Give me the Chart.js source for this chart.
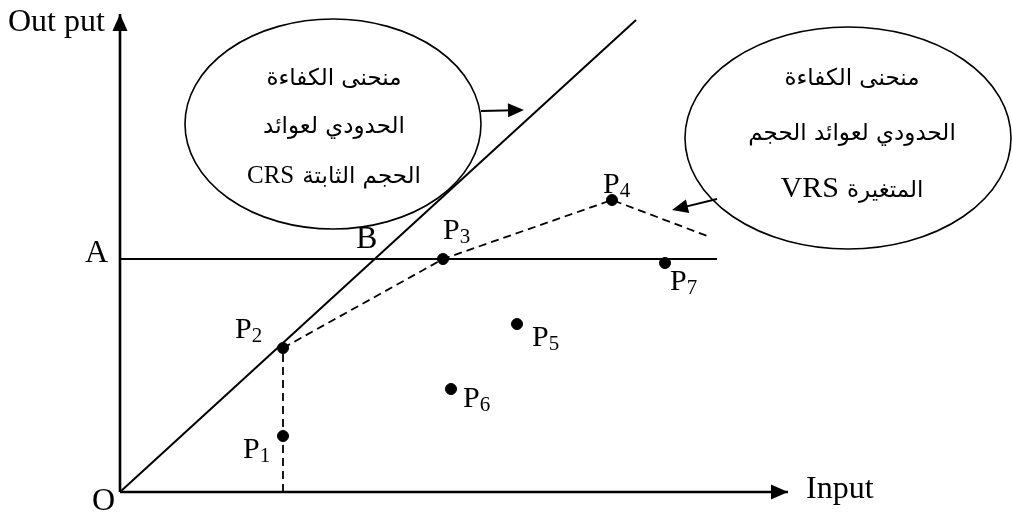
<!DOCTYPE html>
<html>
<head>
<meta charset="utf-8">
<script src="https://cdn.jsdelivr.net/npm/chart.js@4/dist/chart.umd.min.js"></script>
<style>
  html, body { margin: 0; padding: 0; background: #fff; }
  #c { display: block; }
</style>
</head>
<body>
<canvas id="c" width="1012" height="515"></canvas>
<script>
// ---- data (axis units) ----
const pointNames = ['1', '2', '3', '4', '5', '6', '7'];
const pointX = [16.3, 16.3, 32.3, 49.2, 39.7, 33.1, 54.5];
const pointY = [5.6, 14.4, 23.3, 29.2, 16.8, 10.3, 22.9];

const crsX = [0, 51.6];
const crsY = [0, 47.2];

const levelAX = [0, 59.7];
const levelAY = [23.3, 23.3];

const vrsX = [16.3, 32.3, 49.2, 59.0];
const vrsY = [14.4, 23.3, 29.2, 25.5];

const dropX = [16.3, 16.3];
const dropY = [0, 14.4];

const xAxisX = [0, 66.8];
const xAxisY = [0, 0];
const yAxisX = [0, 0];
const yAxisY = [0, 47.8];

// each line: [Arabic part, Latin part]
const crsText = [['منحنى الكفاءة', ''], ['الحدودي لعوائد', ''], ['الحجم الثابتة', 'CRS']];
const vrsText = [['منحنى الكفاءة', ''], ['الحدودي لعوائد الحجم', ''], ['المتغيرة', 'VRS']];

const toXY = (xs, ys) => xs.map((x, i) => ({ x: x, y: ys[i] }));

const lineDs = (xs, ys, opts) => Object.assign({
  type: 'line',
  data: toXY(xs, ys),
  borderColor: '#000',
  borderWidth: 2,
  pointRadius: 0,
  fill: false,
  tension: 0,
  clip: false
}, opts);

// ---- annotation layout (positions in axis units, sizes in px) ----
const ellipses = [
  { cx: 21.3, cy: 36.8, rx: 14.8, ry: 10.5, lines: crsText, tx: 21.4, ty: [40.7, 35.9, 30.9], font: 23, latin: 25 },
  { cx: 72.8, cy: 35.4, rx: 16.3, ry: 11.1, lines: vrsText, tx: 73.2, ty: [40.7, 35.2, 29.5], font: 23, latin: 30 }
];
const pointers = [
  { x1: 36.1, y1: 38.1, x2: 40.4, y2: 38.2 },
  { x1: 59.7, y1: 29.3, x2: 55.2, y2: 28.2 }
];
// label offsets (px) relative to each point
const labelOffsets = [
  [-40, 22], [-48, -10], [0, -20], [-9, -7], [15, 22], [12, 18], [5, 27]
];

const annot = {
  id: 'annot',
  afterDatasetsDraw(chart) {
    const ctx = chart.ctx;
    const xs = chart.scales.x, ys = chart.scales.y;
    const px = v => xs.getPixelForValue(v);
    const py = v => ys.getPixelForValue(v);
    const sx = d => Math.abs(xs.getPixelForValue(d) - xs.getPixelForValue(0));
    const sy = d => Math.abs(ys.getPixelForValue(d) - ys.getPixelForValue(0));

    function arrowHead(x1, y1, x2, y2, len, half) {
      const a = Math.atan2(y2 - y1, x2 - x1);
      ctx.beginPath();
      ctx.moveTo(x2, y2);
      ctx.lineTo(x2 - len * Math.cos(a) + half * Math.sin(a), y2 - len * Math.sin(a) - half * Math.cos(a));
      ctx.lineTo(x2 - len * Math.cos(a) - half * Math.sin(a), y2 - len * Math.sin(a) + half * Math.cos(a));
      ctx.closePath();
      ctx.fillStyle = '#000';
      ctx.fill();
    }

    ctx.save();
    // axis arrow heads
    arrowHead(px(xAxisX[0]), py(xAxisY[0]), px(xAxisX[1]), py(xAxisY[1]), 17, 7.5);
    arrowHead(px(yAxisX[0]), py(yAxisY[0]), px(yAxisX[1]), py(yAxisY[1]), 17, 7.5);

    // ellipses with Arabic text
    ellipses.forEach(e => {
      ctx.beginPath();
      ctx.ellipse(px(e.cx), py(e.cy), sx(e.rx), sy(e.ry), 0, 0, Math.PI * 2);
      ctx.lineWidth = 1.6;
      ctx.strokeStyle = '#000';
      ctx.stroke();
      ctx.fillStyle = '#000';
      ctx.textBaseline = 'alphabetic';
      const arFont = e.font + "px 'DejaVu Sans', sans-serif";
      const laFont = e.latin + "px 'Liberation Serif', serif";
      e.lines.forEach((pair, i) => {
        const y = py(e.ty[i]);
        ctx.font = arFont;
        ctx.direction = 'rtl';
        const wA = ctx.measureText(pair[0]).width;
        let wL = 0, gap = 0;
        if (pair[1]) {
          ctx.font = laFont;
          ctx.direction = 'ltr';
          wL = ctx.measureText(pair[1]).width;
          gap = 8;
        }
        const x0 = px(e.tx) - (wA + gap + wL) / 2;
        if (pair[1]) {
          ctx.font = laFont;
          ctx.direction = 'ltr';
          ctx.textAlign = 'left';
          ctx.fillText(pair[1], x0, y);
        }
        ctx.font = arFont;
        ctx.direction = 'rtl';
        ctx.textAlign = 'right';
        ctx.fillText(pair[0], x0 + wL + gap + wA, y);
        ctx.direction = 'ltr';
      });
    });

    // pointer arrows
    pointers.forEach(p => {
      const x1 = px(p.x1), y1 = py(p.y1), x2 = px(p.x2), y2 = py(p.y2);
      const a = Math.atan2(y2 - y1, x2 - x1);
      ctx.beginPath();
      ctx.moveTo(x1, y1);
      ctx.lineTo(x2 - 10 * Math.cos(a), y2 - 10 * Math.sin(a));
      ctx.lineWidth = 2;
      ctx.strokeStyle = '#000';
      ctx.stroke();
      arrowHead(x1, y1, x2, y2, 16, 7);
    });

    // point labels P with subscript
    ctx.fillStyle = '#000';
    ctx.textAlign = 'left';
    ctx.textBaseline = 'alphabetic';
    pointNames.forEach((n, i) => {
      const x = px(pointX[i]) + labelOffsets[i][0];
      const y = py(pointY[i]) + labelOffsets[i][1];
      ctx.font = "30px 'Liberation Serif', serif";
      ctx.fillText('P', x, y);
      const w = ctx.measureText('P').width;
      ctx.font = "21px 'Liberation Serif', serif";
      ctx.fillText(n, x + w, y + 4);
    });

    // axis letters
    ctx.font = "32px 'Liberation Serif', serif";
    ctx.fillText('Out put', 8, py(yAxisY[1]) + 17);
    ctx.fillText('Input', px(xAxisX[1]) + 18, py(0) + 6);
    ctx.textAlign = 'right';
    ctx.fillText('O', px(0) - 5, py(0) + 18);
    ctx.fillText('A', px(0) - 12, py(levelAY[0]) + 3);
    ctx.textAlign = 'left';
    ctx.fillText('B', px(23.6), py(levelAY[0]) - 11);
    ctx.restore();
  }
};

new Chart(document.getElementById('c'), {
  type: 'scatter',
  data: {
    datasets: [
      lineDs(xAxisX, xAxisY, { borderWidth: 2.6 }),
      lineDs(yAxisX, yAxisY, { borderWidth: 2.6 }),
      lineDs(crsX, crsY, { borderWidth: 2 }),
      lineDs(levelAX, levelAY, { borderWidth: 2 }),
      lineDs(vrsX, vrsY, { borderWidth: 1.8, borderDash: [8, 5] }),
      lineDs(dropX, dropY, { borderWidth: 1.8, borderDash: [8, 5] }),
      {
        type: 'scatter',
        data: toXY(pointX, pointY),
        backgroundColor: '#000',
        borderColor: '#000',
        pointRadius: 5.5,
        pointBorderWidth: 1,
        clip: false
      }
    ]
  },
  options: {
    responsive: false,
    animation: false,
    devicePixelRatio: 1,
    layout: { padding: { left: 120, right: 12, top: 12, bottom: 23 } },
    scales: {
      x: { type: 'linear', min: 0, max: 88, display: false },
      y: { type: 'linear', min: 0, max: 48, display: false }
    },
    plugins: { legend: { display: false }, tooltip: { enabled: false } },
    events: []
  },
  plugins: [annot]
});
</script>
</body>
</html>
